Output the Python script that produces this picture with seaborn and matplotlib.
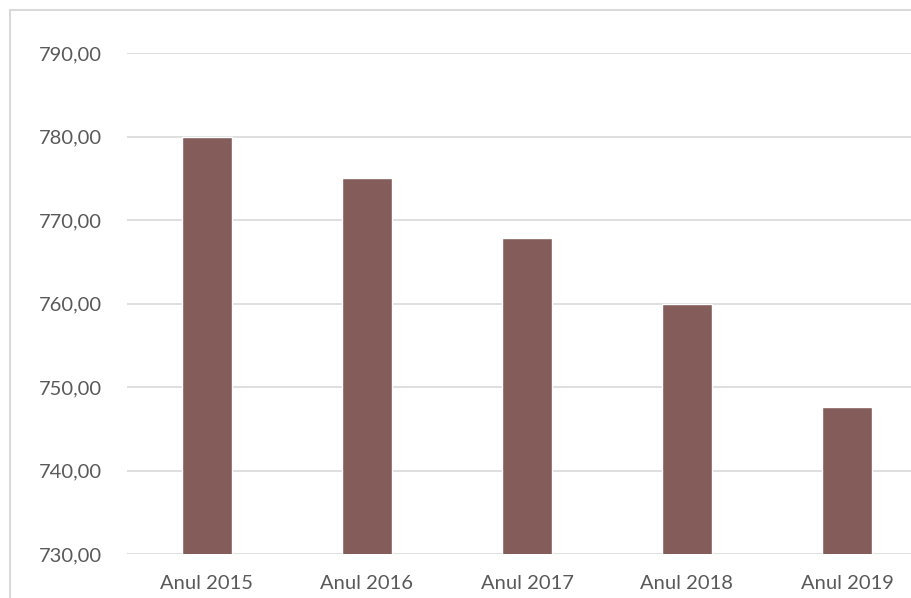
import matplotlib.pyplot as plt
import seaborn as sns
import pandas as pd
from matplotlib.patches import Rectangle
from matplotlib.ticker import FuncFormatter

years = ["Anul 2015", "Anul 2016", "Anul 2017", "Anul 2018", "Anul 2019"]
values = [780.0, 775.0, 767.8, 760.0, 747.6]
yticks = [730, 740, 750, 760, 770, 780, 790]

df = pd.DataFrame({"an": years, "valoare": values})

sns.set_theme(style="white")
plt.rcParams["font.family"] = ["Lato", "DejaVu Sans"]

fig = plt.figure(figsize=(9.12, 5.98), dpi=100)

# outer chart frame (cropped on right and bottom)
fig.patches.append(Rectangle((10 / 912, -0.1), 1.2, 0.1 + 588 / 598,
                             transform=fig.transFigure, fill=False,
                             edgecolor="#d9d9d9", linewidth=1.5))

ax = fig.add_axes([127 / 912, 44 / 598, 800 / 912, 501 / 598])
sns.barplot(data=df, x="an", y="valoare", color="#845d5a", width=0.31,
            saturation=1, ax=ax)

ax.set_ylim(730, 790)
ax.set_yticks(yticks)
ax.yaxis.set_major_formatter(FuncFormatter(lambda v, p: f"{v:.2f}".replace(".", ",")))
ax.grid(axis="y", color="#d9d9d9", linewidth=1.2)
ax.set_axisbelow(True)
for s in ax.spines.values():
    s.set_visible(False)
ax.tick_params(axis="both", length=0, labelsize=14.5, colors="#595959")
ax.tick_params(axis="y", pad=18)
ax.tick_params(axis="x", pad=15)
ax.set_xlabel("")
ax.set_ylabel("")

fig.savefig("out.png", dpi=100)
